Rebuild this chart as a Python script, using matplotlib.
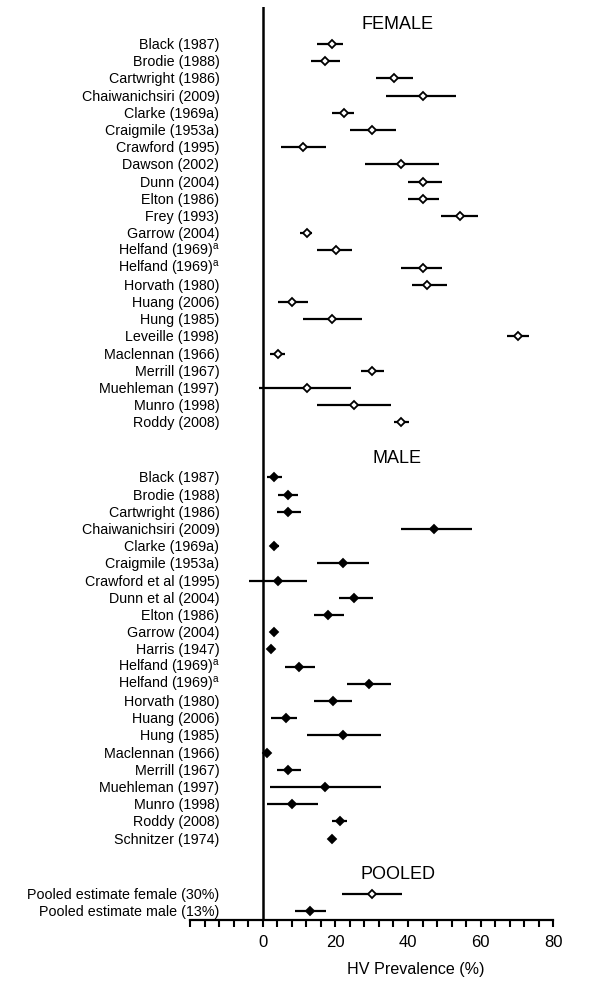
import matplotlib
matplotlib.use('Agg')
import matplotlib.pyplot as plt

plt.rcParams['font.family'] = ['Liberation Sans', 'DejaVu Sans']
plt.rcParams['mathtext.fontset'] = 'custom'
plt.rcParams['mathtext.rm'] = 'Liberation Sans'

HA = r'Helfand (1969)$^{\mathrm{a}}$'

# female studies: estimate and 95% CI (HV prevalence, %)
female_labels = ['Black (1987)', 'Brodie (1988)', 'Cartwright (1986)', 'Chaiwanichsiri (2009)',
                 'Clarke (1969a)', 'Craigmile (1953a)', 'Crawford (1995)', 'Dawson (2002)',
                 'Dunn (2004)', 'Elton (1986)', 'Frey (1993)', 'Garrow (2004)', HA, HA,
                 'Horvath (1980)', 'Huang (2006)', 'Hung (1985)', 'Leveille (1998)',
                 'Maclennan (1966)', 'Merrill (1967)', 'Muehleman (1997)', 'Munro (1998)',
                 'Roddy (2008)']
female_est = [19.1, 17.1, 36.1, 44.2, 22.3, 30.1, 11.1, 38.2, 44.2, 44.1, 54.2, 12.1, 20.2, 44.2,
              45.2, 8.1, 19.1, 70.3, 4.1, 30.1, 12.1, 25.1, 38.2]
female_lo = [15.0, 13.2, 31.1, 33.9, 19.0, 24.1, 5.1, 28.1, 40.1, 40.1, 49.0, 10.3, 15.0, 38.0,
             41.0, 4.1, 11.1, 67.2, 2.1, 27.1, -1.1, 15.0, 36.1]
female_hi = [22.2, 21.2, 41.4, 53.3, 25.2, 36.6, 17.4, 48.4, 49.4, 48.4, 59.4, 13.6, 24.5, 49.3,
             50.6, 12.4, 27.4, 73.3, 6.2, 33.3, 24.4, 35.2, 40.3]

# male studies
male_labels = ['Black (1987)', 'Brodie (1988)', 'Cartwright (1986)', 'Chaiwanichsiri (2009)',
               'Clarke (1969a)', 'Craigmile (1953a)', 'Crawford et al (1995)', 'Dunn et al (2004)',
               'Elton (1986)', 'Garrow (2004)', 'Harris (1947)', HA, HA, 'Horvath (1980)',
               'Huang (2006)', 'Hung (1985)', 'Maclennan (1966)', 'Merrill (1967)',
               'Muehleman (1997)', 'Munro (1998)', 'Roddy (2008)', 'Schnitzer (1974)']
male_est = [3.1, 7.1, 7.1, 47.2, 3.2, 22.2, 4.1, 25.0, 18.1, 3.2, 2.3, 10.1, 29.2, 19.3, 6.3,
            22.1, 1.2, 7.1, 17.1, 8.1, 21.2, 19.1]
male_lo = [1.1, 4.1, 4.0, 38.2, 2.0, 15.0, -3.9, 21.0, 14.1, 2.6, 1.7, 6.1, 23.2, 14.1, 2.2,
           12.1, 0.6, 4.0, 2.1, 1.1, 19.0, 18.6]
male_hi = [5.2, 9.6, 10.6, 57.6, 4.6, 29.3, 12.3, 30.3, 22.3, 3.8, 2.9, 14.3, 35.3, 24.5, 9.5,
           32.5, 1.8, 10.5, 32.5, 15.3, 23.3, 19.6]

# pooled
pooled_labels = ['Pooled estimate female (30%)', 'Pooled estimate male (13%)']
pooled_est = [30.2, 13.1]
pooled_lo = [21.9, 9.0]
pooled_hi = [38.3, 17.4]

gap = 3.2
female_y = [i for i in range(len(female_labels))]
male_y = [female_y[-1] + gap + i for i in range(len(male_labels))]
pooled_y = [male_y[-1] + gap + i for i in range(len(pooled_labels))]

fig = plt.figure(figsize=(6, 9.95), dpi=100)
ax = fig.add_axes([0.3167, 0.0744, 0.6055, 0.9176])


def draw(ys, est, lo, hi, face):
    for y, e, l, h in zip(ys, est, lo, hi):
        ax.plot([l, h], [y, y], color='black', lw=1.6, zorder=2, solid_capstyle='butt')
        ax.plot(e, y, marker='D', ms=4.5, mfc=face, mec='black', mew=1.3, zorder=3)


draw(female_y, female_est, female_lo, female_hi, 'white')
draw(male_y, male_est, male_lo, male_hi, 'black')
draw(pooled_y[:1], pooled_est[:1], pooled_lo[:1], pooled_hi[:1], 'white')
draw(pooled_y[1:], pooled_est[1:], pooled_lo[1:], pooled_hi[1:], 'black')

for ys, labels in [(female_y, female_labels), (male_y, male_labels), (pooled_y, pooled_labels)]:
    for y, lab in zip(ys, labels):
        ax.text(-11.9, y, lab, ha='right', va='center', fontsize=10.3)

ax.text(37, female_y[0] - 1.2, 'FEMALE', ha='center', va='center', fontsize=13)
ax.text(37, male_y[0] - 1.15, 'MALE', ha='center', va='center', fontsize=13)
ax.text(37.3, pooled_y[0] - 1.15, 'POOLED', ha='center', va='center', fontsize=13)

ax.axvline(0, color='black', lw=1.8, zorder=1)

ax.set_xlim(-20, 80)
ax.set_ylim(pooled_y[-1] + 0.53, female_y[0] - 2.15)
ax.set_xticks(range(-20, 81, 4), minor=True)
ax.set_xticks([0, 20, 40, 60, 80])
ax.tick_params(axis='x', which='both', direction='out', length=5, width=1.5, labelsize=12, pad=5)
ax.set_yticks([])
for s in ['left', 'right', 'top']:
    ax.spines[s].set_visible(False)
ax.spines['bottom'].set_linewidth(1.6)
ax.set_xlabel('HV Prevalence (%)', fontsize=11.6)
ax.xaxis.set_label_coords(0.62, -0.045)

fig.savefig('out.png', dpi=100)
